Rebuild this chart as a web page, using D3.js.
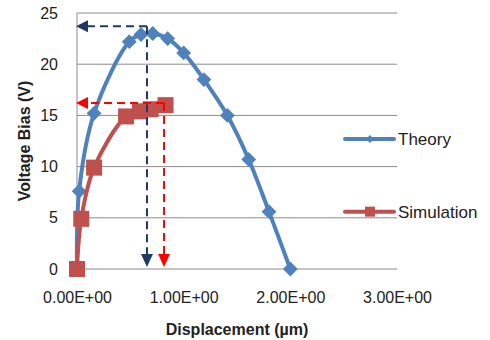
<!DOCTYPE html>
<html>
<head>
<meta charset="utf-8">
<script src="https://cdn.jsdelivr.net/npm/d3@7"></script>
<style>
  body { margin: 0; background: #fff; }
  text { font-family: "Liberation Sans", Arial, sans-serif; fill: #222; }
</style>
</head>
<body>
<div id="my_dataviz"></div>
<script>
// data
var theoryX = [0, 0.02, 0.16, 0.49, 0.60, 0.71, 0.85, 1.00, 1.19, 1.41, 1.61, 1.80, 2.00];
var theoryY = [0, 7.6, 15.2, 22.2, 22.9, 23.0, 22.5, 21.1, 18.5, 15.0, 10.7, 5.6, 0];
var simX = [0, 0.04, 0.16, 0.46, 0.59, 0.69, 0.83];
var simY = [0, 4.9, 9.9, 14.9, 15.4, 15.6, 16.0];
var seriesNames = ["Theory", "Simulation"];
var xTicks = [0, 1, 2, 3];
var yTicks = [0, 5, 10, 15, 20, 25];
// peak markers: [x, y] for the dashed arrows
var theoryPeak = [0.656, 23.7];
var simPeak = [0.816, 16.2];

// set the dimensions and margins of the graph
var margin = {top: 13, right: 93, bottom: 71, left: 77},
    width = 490 - margin.left - margin.right,
    height = 340 - margin.top - margin.bottom;

var svg = d3.select("#my_dataviz")
  .append("svg")
    .attr("width", 490)
    .attr("height", 340)
  .append("g")
    .attr("transform", "translate(" + margin.left + "," + margin.top + ")");

var x = d3.scaleLinear().domain([0, 3]).range([0, width]);
var y = d3.scaleLinear().domain([0, 25]).range([height, 0]);

var blue = "#4f81bd", red = "#c0504d", navy = "#1f3864", bright = "#ff0000";

// grid lines
svg.append("g")
  .selectAll("line")
  .data(yTicks)
  .enter()
  .append("line")
    .attr("x1", 0).attr("x2", width)
    .attr("y1", function (d) { return y(d); })
    .attr("y2", function (d) { return y(d); })
    .style("stroke", "#8c8c8c")
    .style("stroke-width", 1);
svg.append("line")
  .attr("x1", 0).attr("x2", 0).attr("y1", 0).attr("y2", height)
  .style("stroke", "#8c8c8c");

// axes (labels only)
var xAxis = svg.append("g")
  .attr("transform", "translate(0," + height + ")")
  .call(d3.axisBottom(x).tickValues(xTicks).tickSize(0).tickPadding(23)
    .tickFormat(function (d) { return d.toFixed(2) + "E+00"; }));
var yAxis = svg.append("g")
  .call(d3.axisLeft(y).tickValues(yTicks).tickSize(0).tickPadding(19));
[xAxis, yAxis].forEach(function (a) {
  a.select(".domain").remove();
  a.selectAll("text").style("font-size", "16px").style("fill", "#222")
    .style("font-family", "'Liberation Sans', Arial, sans-serif");
});

// axis titles
svg.append("text")
  .attr("x", width / 2).attr("y", height + 66)
  .attr("text-anchor", "middle")
  .style("font-size", "16px").style("font-weight", "bold")
  .text("Displacement (µm)");
svg.append("text")
  .attr("transform", "translate(-47," + (height / 2) + ") rotate(-90)")
  .attr("text-anchor", "middle")
  .style("font-size", "16px").style("font-weight", "bold")
  .text("Voltage Bias (V)");

var line = d3.line()
  .x(function (d) { return x(d[0]); })
  .y(function (d) { return y(d[1]); })
  .curve(d3.curveCatmullRom);

var theory = d3.zip(theoryX, theoryY);
var sim = d3.zip(simX, simY);

// theory series
svg.append("path").datum(theory)
  .attr("d", line)
  .style("fill", "none").style("stroke", blue).style("stroke-width", 4)
  .style("stroke-linejoin", "round");
svg.append("g").selectAll("path")
  .data(theory)
  .enter()
  .append("path")
    .attr("d", d3.symbol().type(d3.symbolDiamond2).size(140))
    .attr("transform", function (d) { return "translate(" + x(d[0]) + "," + y(d[1]) + ")"; })
    .style("fill", blue);

// simulation series
svg.append("path").datum(sim)
  .attr("d", line)
  .style("fill", "none").style("stroke", red).style("stroke-width", 4)
  .style("stroke-linejoin", "round");
svg.append("g").selectAll("rect")
  .data(sim)
  .enter()
  .append("rect")
    .attr("x", function (d) { return x(d[0]) - 8; })
    .attr("y", function (d) { return y(d[1]) - 8; })
    .attr("width", 16).attr("height", 16)
    .style("fill", red);

// dashed arrows
function arrow(p, color) {
  var g = svg.append("g");
  g.append("line")
    .attr("x1", x(p[0])).attr("x2", x(0) + 10)
    .attr("y1", y(p[1])).attr("y2", y(p[1]))
    .style("stroke", color).style("stroke-width", 2).style("stroke-dasharray", "8,5");
  g.append("line")
    .attr("x1", x(p[0])).attr("x2", x(p[0]))
    .attr("y1", y(p[1])).attr("y2", y(0) - 14)
    .style("stroke", color).style("stroke-width", 2).style("stroke-dasharray", "8,5");
  var lx = x(0) - 1, ly = y(p[1]);
  g.append("path")
    .attr("d", "M" + lx + "," + ly + "L" + (lx + 12) + "," + (ly - 6) + "L" + (lx + 12) + "," + (ly + 6) + "Z")
    .style("fill", color);
  var bx = x(p[0]), by = y(0) - 2;
  g.append("path")
    .attr("d", "M" + bx + "," + by + "L" + (bx - 6) + "," + (by - 13) + "L" + (bx + 6) + "," + (by - 13) + "Z")
    .style("fill", color);
}
arrow(theoryPeak, navy);
arrow(simPeak, bright);

// legend
var legend = svg.append("g").attr("transform", "translate(" + (width - 52) + ",0)");
[[blue, y(12.7)], [red, y(5.6)]].forEach(function (s, i) {
  legend.append("line")
    .attr("x1", 0).attr("x2", 49).attr("y1", s[1]).attr("y2", s[1])
    .style("stroke", s[0]).style("stroke-width", 4).style("stroke-linecap", "round");
  if (i === 0) {
    legend.append("path")
      .attr("d", d3.symbol().type(d3.symbolDiamond2).size(40))
      .attr("transform", "translate(25," + s[1] + ")")
      .style("fill", s[0]);
  } else {
    legend.append("rect")
      .attr("x", 20).attr("y", s[1] - 5).attr("width", 10).attr("height", 10)
      .style("fill", s[0]);
  }
  legend.append("text")
    .attr("x", 53).attr("y", s[1]).attr("dy", "0.36em")
    .style("font-size", "17px")
    .text(seriesNames[i]);
});
</script>
</body>
</html>
